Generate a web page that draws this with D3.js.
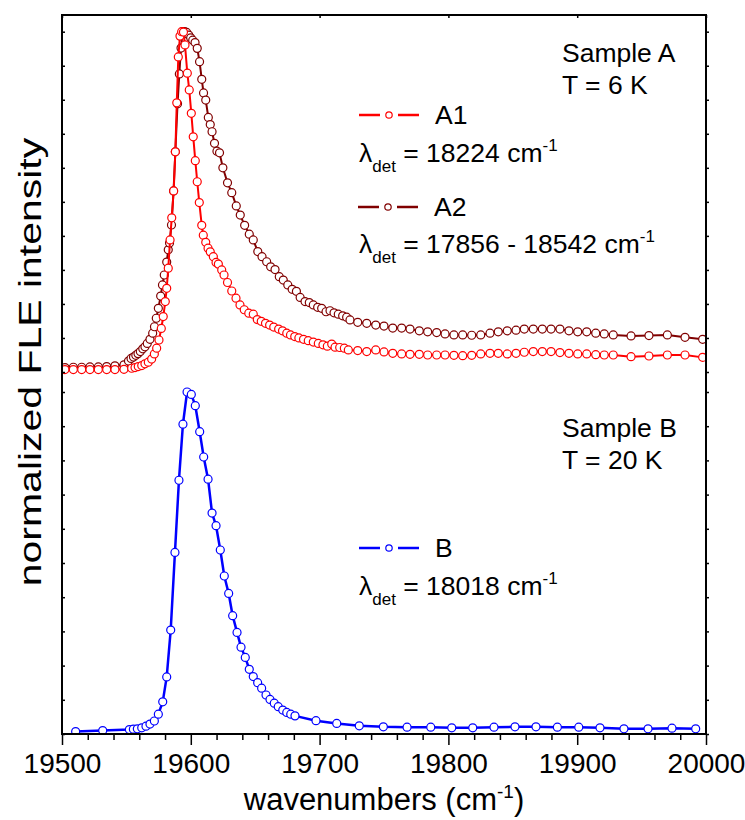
<!DOCTYPE html>
<html>
<head>
<meta charset="utf-8">
<script src="https://cdn.jsdelivr.net/npm/d3@7"></script>
<style>
  body { margin: 0; background: #fff; }
  text { font-family: "Liberation Sans", Arial, sans-serif; fill: #000; }
</style>
</head>
<body>
<svg width="745" height="820"></svg>
<script>
// sample A, detection at 18224 cm-1 (red)
const a1 = [
  [19502.3,.007],[19508.8,.007],[19515.3,.007],[19521.7,.007],[19528.2,.007],[19534.7,.007],[19541.1,.007],[19548.1,.008],
  [19554.1,.011],[19556.7,.013],[19559.2,.016],[19561.9,.019],[19564.4,.024],[19567.0,.029],[19569.6,.038],[19571.7,.053],
  [19573.5,.070],[19575.3,.094],[19577.1,.128],[19578.6,.163],[19580.2,.207],[19581.3,.246],[19582.5,.305],[19583.9,.388],
  [19585.2,.453],[19586.7,.532],[19588.0,.647],[19589.1,.791],[19590.3,.926],[19591.6,.987],[19592.9,1.0],[19594.3,.999],
  [19595.5,.961],[19597.3,.878],[19598.8,.829],[19600.4,.760],[19601.9,.691],[19603.5,.621],[19605.0,.559],[19606.6,.498],
  [19608.5,.431],[19609.7,.402],[19611.6,.381],[19613.4,.364],[19615.1,.353],[19617.5,.339],[19619.6,.322],[19621.4,.317],
  [19624.0,.300],[19625.8,.285],[19628.5,.263],[19631.8,.238],[19635.1,.217],[19638.2,.197],[19641.5,.183],[19645.0,.173],
  [19648.5,.170],[19651.6,.154],[19654.7,.149],[19658.0,.143],[19661.2,.138],[19664.4,.132],[19668.2,.126],[19671.2,.121],
  [19674.5,.114],[19677.4,.109],[19680.7,.104],[19683.9,.100],[19687.5,.096],[19691.2,.092],[19695.1,.088],[19699.0,.084],
  [19702.6,.080],[19706.0,.076],[19709.4,.082],[19712.0,.073],[19715.6,.072],[19719.2,.070],[19722.3,.065],
  [19729.6,.063],[19736.6,.060],[19743.6,.065],[19750.0,.059],[19756.8,.055],[19763.7,.053],[19770.2,.052],[19777.4,.052],
  [19783.9,.050],[19790.9,.050],[19797.4,.050],[19804.3,.049],[19811.1,.048],[19818.1,.049],[19825.1,.053],[19832.3,.055],
  [19838.7,.055],[19845.7,.053],[19852.5,.055],[19858.9,.058],[19865.9,.060],[19872.9,.060],[19879.7,.060],[19886.6,.057],
  [19893.6,.055],[19900.4,.053],[19907.4,.053],[19914.4,.051],[19921.0,.050],[19928.0,.050],
  [19941.8,.045],[19955.7,.047],[19970.0,.050],[19983.7,.050],[19997.4,.043]
]

// sample A, detection 17856 - 18542 cm-1 (dark red)
const a2 = [
  [19502.3,.013],[19508.8,.014],[19515.3,.014],[19521.7,.015],[19528.2,.015],[19534.7,.016],[19541.1,.018],[19548.1,.021],
  [19551.6,.032],[19553.6,.040],[19555.5,.044],[19557.3,.049],[19559.0,.054],[19560.8,.060],[19562.7,.068],[19564.4,.074],
  [19566.2,.084],[19568.3,.096],[19570.4,.114],[19571.8,.133],[19573.2,.158],[19574.8,.187],[19576.6,.223],[19578.0,.256],
  [19579.4,.285],[19581.3,.323],[19582.5,.359],[19583.5,.379],[19585.0,.432],[19586.6,.532],[19588.0,.647],[19589.7,.788],
  [19591.1,.876],[19592.4,.952],[19593.7,1.0],[19595.3,1.0],[19596.8,.998],[19598.4,.990],[19599.9,.982],[19601.5,.975],
  [19603.3,.968],[19605.0,.951],[19606.8,.912],[19608.5,.860],[19609.9,.820],[19611.6,.799],[19613.6,.748],[19615.1,.727],
  [19616.5,.706],[19618.4,.672],[19620.3,.649],[19622.3,.644],[19624.9,.600],[19628.5,.556],[19631.8,.527],[19635.3,.488],
  [19638.4,.461],[19641.8,.431],[19645.4,.405],[19648.5,.388],[19652.0,.354],[19655.3,.339],[19658.9,.324],[19662.0,.309],
  [19665.4,.301],[19668.7,.280],[19671.8,.270],[19675.3,.256],[19678.7,.243],[19682.0,.237],[19684.9,.219],[19688.7,.207],
  [19692.0,.204],[19695.1,.197],[19698.5,.190],[19701.6,.187],[19705.0,.177],[19708.1,.180],[19711.2,.174],[19714.5,.170],
  [19717.9,.165],[19721.0,.161],[19723.6,.153],
  [19729.6,.146],[19736.6,.143],[19743.6,.138],[19750.0,.135],[19756.8,.129],[19763.7,.129],[19770.2,.126],[19777.4,.121],
  [19783.9,.118],[19790.9,.116],[19797.4,.112],[19804.3,.109],[19811.1,.109],[19818.1,.108],[19825.1,.109],[19832.3,.114],
  [19838.7,.118],[19845.7,.121],[19852.5,.123],[19858.9,.126],[19865.9,.126],[19872.9,.126],[19879.7,.126],[19886.6,.126],
  [19893.6,.121],[19900.4,.118],[19907.4,.118],[19914.4,.114],[19921.0,.112],[19928.0,.109],
  [19941.8,.106],[19955.7,.107],[19970.0,.109],[19983.7,.102],[19997.4,.096]
]

// sample B, detection at 18018 cm-1 (blue)
const b = [
  [19510.6,.007],[19531.6,.010],[19552.3,.013],[19555.4,.014],[19558.5,.015],[19561.9,.018],[19565.2,.023],[19568.3,.029],
  [19571.7,.038],[19574.8,.058],[19578.2,.094],[19581.3,.167],[19584.4,.304],[19587.7,.531],[19590.8,.742],[19593.9,.906],
  [19597.1,1.0],[19600.4,.993],[19603.5,.960],[19606.9,.884],[19610.0,.810],[19613.4,.745],[19616.5,.646],[19619.6,.609],
  [19622.9,.538],[19626.0,.462],[19629.4,.411],[19632.5,.346],[19635.9,.297],[19639.0,.254],[19642.3,.224],[19645.4,.189],
  [19648.5,.168],[19651.9,.150],[19655.0,.134],[19658.4,.114],[19661.5,.101],[19664.8,.090],[19667.9,.080],[19671.4,.070],
  [19674.5,.063],[19677.6,.058],[19680.9,.053],[19697.2,.039],[19713.3,.031],[19730.8,.024],[19749.5,.021],[19767.9,.020],
  [19786.3,.020],[19802.6,.018],[19818.9,.018],[19835.4,.020],[19851.7,.021],[19868.0,.021],[19884.6,.020],[19901.2,.020],
  [19917.7,.018],[19936.3,.015],[19955.0,.015],[19973.6,.017],[19992.0,.015]
]

const xMajor = [19500, 19600, 19700, 19800, 19900, 20000]
const xMinor = d3.range(19500, 20001, 20).filter(d => d % 100 != 0)
const yTicks = d3.range(0, 1.0001, 0.1)

let width = 745
let height = 820
let margin = { top: 15, right: 39, bottom: 86, left: 62 }

let svg = d3.select('svg')
let fontFam = '"Liberation Sans", Arial, sans-serif'

let xScale = d3.scaleLinear()
  .domain([19500, 20000])
  .range([margin.left, width - margin.right])

// two stacked layers share the x axis
let yA = d3.scaleLinear().domain([0, 1]).range([372, 31.7])
let yB = d3.scaleLinear().domain([0, 1]).range([height - margin.bottom, 392])

svg.append('defs').append('clipPath').attr('id', 'plot')
  .append('rect')
  .attr('x', margin.left).attr('y', margin.top)
  .attr('width', width - margin.left - margin.right)
  .attr('height', height - margin.top - margin.bottom)

let plot = svg.append('g').attr('clip-path', 'url(#plot)')

function drawSeries(data, y, color, lw) {
  let line = d3.line()
    .x(d => xScale(d[0]))
    .y(d => y(d[1]))
  plot.append('path')
    .attr('d', line(data))
    .attr('fill', 'none')
    .attr('stroke', color)
    .attr('stroke-width', lw)
    .attr('stroke-linejoin', 'round')
  plot.append('g').selectAll('circle')
    .data(data)
    .join('circle')
    .attr('cx', d => xScale(d[0]))
    .attr('cy', d => y(d[1]))
    .attr('r', 4)
    .attr('fill', '#fff')
    .attr('stroke', color)
    .attr('stroke-width', 1.2)
}

drawSeries(a2, yA, '#800000', 2)
drawSeries(a1, yA, '#ff0000', 2)
drawSeries(b, yB, '#0000ff', 2.5)

// axes
let bottomY = height - margin.bottom
svg.append('g')
  .attr('transform', 'translate(' + [0, bottomY] + ')')
  .call(d3.axisBottom(xScale).tickValues(xMinor).tickSize(6).tickFormat(''))
svg.append('g')
  .attr('class', 'xmaj')
  .attr('transform', 'translate(' + [0, bottomY] + ')')
  .call(d3.axisBottom(xScale).tickValues(xMajor).tickSize(11).tickPadding(8).tickFormat(d3.format('d')))
svg.append('g')
  .attr('transform', 'translate(' + [0, margin.top] + ')')
  .call(d3.axisBottom(xScale).tickValues(xMajor).tickSize(3).tickFormat(''))

for (let y of [yA, yB]) {
  svg.append('g')
    .attr('transform', 'translate(' + [margin.left, 0] + ')')
    .call(d3.axisRight(y).tickValues(yTicks).tickSize(3).tickFormat(''))
  svg.append('g')
    .attr('transform', 'translate(' + [width - margin.right, 0] + ')')
    .call(d3.axisRight(y).tickValues(yTicks).tickSize(3).tickFormat(''))
}

svg.selectAll('.domain').remove()
svg.selectAll('.tick line').attr('stroke', '#000').attr('stroke-width', 1.5)
svg.selectAll('.xmaj text')
  .attr('font-family', fontFam)
  .attr('font-size', 28)
  .attr('fill', '#000')

svg.append('rect')
  .attr('x', margin.left).attr('y', margin.top)
  .attr('width', width - margin.left - margin.right)
  .attr('height', height - margin.top - margin.bottom)
  .attr('fill', 'none')
  .attr('stroke', '#000')
  .attr('stroke-width', 2)

// axis titles
let xt = svg.append('text')
  .attr('x', (margin.left + width - margin.right) / 2)
  .attr('y', 810)
  .attr('text-anchor', 'middle')
  .attr('font-size', 31)
xt.append('tspan').text('wavenumbers (cm')
xt.append('tspan').attr('dy', -12).attr('font-size', 19).text('-1')
xt.append('tspan').attr('dy', 12).text(')')

svg.append('text')
  .attr('transform', 'translate(41,362) rotate(-90) scale(1.28,1)')
  .attr('text-anchor', 'middle')
  .attr('font-size', 32)
  .text('normalized FLE intensity')

// annotations
function label(x, y, str) {
  svg.append('text').attr('x', x).attr('y', y).attr('font-size', 26.5).text(str)
}

function legendKey(x, y, color, name) {
  let g = svg.append('g')
  g.append('line').attr('x1', x).attr('x2', x + 21).attr('y1', y).attr('y2', y)
    .attr('stroke', color).attr('stroke-width', 2.5)
  g.append('line').attr('x1', x + 39).attr('x2', x + 60).attr('y1', y).attr('y2', y)
    .attr('stroke', color).attr('stroke-width', 2.5)
  g.append('circle').attr('cx', x + 30).attr('cy', y).attr('r', 3.2)
    .attr('fill', '#fff').attr('stroke', color).attr('stroke-width', 1.2)
  label(x + 76, y + 9, name)
}

function detLine(x, y, str) {
  let t = svg.append('text').attr('x', x).attr('y', y).attr('font-size', 26.5)
  t.append('tspan').text('λ')
  t.append('tspan').attr('dy', 10).attr('font-size', 17).text('det')
  t.append('tspan').attr('dy', -10).text(' = ' + str + ' cm')
  t.append('tspan').attr('dy', -11).attr('font-size', 17).text('-1')
}

label(562, 62, 'Sample A')
label(562, 94, 'T = 6 K')
legendKey(359, 115, '#ff0000', 'A1')
detLine(359, 162, '18224')
legendKey(358, 207, '#800000', 'A2')
detLine(359, 253, '17856 - 18542')

label(562, 437, 'Sample B')
label(562, 469, 'T = 20 K')
legendKey(359, 548, '#0000ff', 'B')
detLine(359, 595, '18018')
</script>
</body>
</html>
